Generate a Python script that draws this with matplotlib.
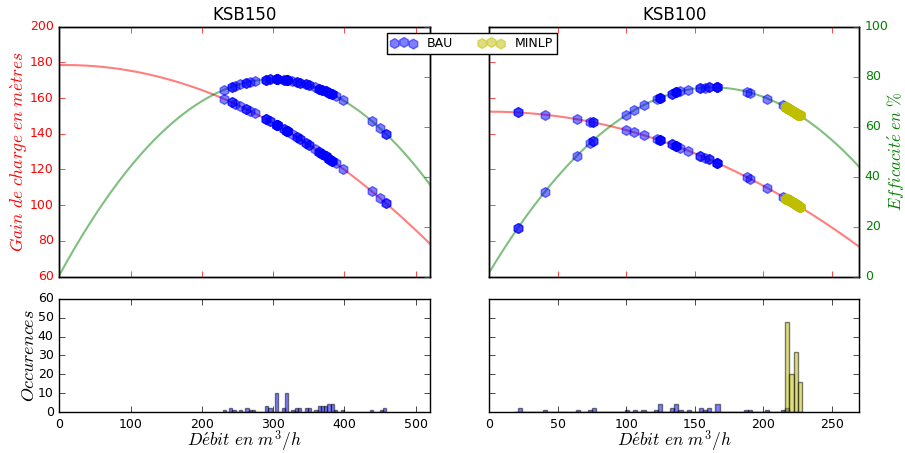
"""
Points de fonctionnement des pompes KSB150 et KSB100 : BAU vs MINLP.
Courbes caractéristiques (hauteur, rendement) + histogrammes des débits.
"""

import numpy as np
import matplotlib
matplotlib.use('Agg')
import matplotlib.pyplot as plt


q_bau_ksb150 = [231, 242, 247, 254, 262, 267, 274, 290, 295, 305, 315, 319,
                327, 333, 338, 346, 351, 359, 365, 369, 374, 378.5, 383, 388,
                398, 438, 450, 458]
n_bau_ksb150 = [1, 2, 1, 1, 2, 1, 1, 3, 2, 10, 2, 10,
                1, 2, 2, 2, 2, 1, 3, 3, 3, 4, 4, 1,
                1, 1, 1, 2]

q_bau_ksb100 = [21, 40.5, 64, 73.5, 75.5, 100, 105.5, 113, 122, 124.5, 133,
                136.5, 139.5, 145, 154, 157.5, 160.5, 166, 188, 190.5, 203,
                214, 217]
n_bau_ksb100 = [2, 1, 1, 1, 2, 1, 1, 1, 1, 4, 2,
                4, 1, 1, 2, 1, 2, 4, 1, 1, 1,
                1, 2]

q_minlp_ksb100 = [216.5, 217.5, 218.5, 220, 221, 222.5, 223.5, 224.5, 225.5, 226.5]
n_minlp_ksb100 = [16, 16, 16, 10, 10, 11, 11, 10, 8, 8]

# Coefficients des courbes (np.polyval : Q^2, Q, 1)
head_ksb150 = [-3.83e-4, 0.0065, 178.5]
eff_ksb150 = [-8.71e-4, 0.5227, 0.5]
head_ksb100 = [-1.039e-3, 0.0, 152.4]
eff_ksb100 = [-2.785e-3, 0.908, 1.7]

qmax_ksb150 = 520
qmax_ksb100 = 270


def draw_pump(ax, ax_hist, name, qmax, head, eff, bins, series, show_labels):
    """Trace courbes + points de fonctionnement, puis l'histogramme des débits."""
    ax_eff = ax.twinx()

    q = np.linspace(0, qmax, 300)
    ax.plot(q, np.polyval(head, q), color='r', alpha=0.5, lw=1.5)
    ax_eff.plot(q, np.polyval(eff, q), color='g', alpha=0.5, lw=1.5)

    handles = []
    for values, counts, color in series:
        qs = np.repeat(values, counts)
        h = ax.scatter(qs, np.polyval(head, qs), s=50, marker='h', color=color,
                       edgecolors=color, alpha=0.5, zorder=3)
        ax_eff.scatter(qs, np.polyval(eff, qs), s=50, marker='h', color=color,
                       edgecolors=color, alpha=0.5, zorder=3)
        ax_hist.hist(qs, bins=bins, color=color, alpha=0.5)
        handles.append(h)

    ax.set_xlim(0, qmax)
    ax.set_ylim(60, 200)
    ax_eff.set_ylim(0, 100)
    ax.set_title(name, fontsize=12)
    ax.tick_params(colors='r', labelbottom=False)
    ax_eff.tick_params(colors='g')

    ax_hist.set_xlim(0, qmax)
    ax_hist.set_ylim(0, 60)
    ax_hist.set_xlabel(r'$D\acute{e}bit\ en\ m^3/h$', fontsize=12.5, labelpad=-1)

    if show_labels:
        ax.set_ylabel(r'$Gain\ de\ charge\ en\ m\grave{e}tres$', color='r',
                      fontsize=12.5, labelpad=0)
        ax_eff.tick_params(labelright=False)
        ax_hist.set_ylabel(r'$Occurences$', fontsize=13, labelpad=0)
    else:
        ax.tick_params(labelleft=False)
        ax_eff.set_ylabel(r'$Efficacit\acute{e}\ en\ \%$', color='g',
                          fontsize=12, labelpad=-3)
        ax_hist.tick_params(labelleft=False)

    return handles


plt.style.use('classic')
plt.rcParams['mathtext.fontset'] = 'cm'
plt.rcParams['font.size'] = 9

fig = plt.figure(figsize=(9.05, 4.53), dpi=100, facecolor='white')
ax_l = fig.add_axes([0.0655, 0.3896, 0.4096, 0.5514])
ax_r = fig.add_axes([0.5407, 0.3896, 0.4088, 0.5514])
hist_l = fig.add_axes([0.0655, 0.0905, 0.4096, 0.2495])
hist_r = fig.add_axes([0.5407, 0.0905, 0.4088, 0.2495])

h_l = draw_pump(ax_l, hist_l, 'KSB150', qmax_ksb150, head_ksb150, eff_ksb150,
                np.arange(229, 463, 4.6),
                [(q_bau_ksb150, n_bau_ksb150, 'b')], True)
h_r = draw_pump(ax_r, hist_r, 'KSB100', qmax_ksb100, head_ksb100, eff_ksb100,
                np.arange(18, 231, 3),
                [(q_bau_ksb100, n_bau_ksb100, 'b'),
                 (q_minlp_ksb100, n_minlp_ksb100, 'y')], False)

hist_l.set_xticks(range(0, 501, 100))
hist_r.set_xticks(range(0, 251, 50))

fig.legend([h_l[0], h_r[1]], ['BAU', 'MINLP'], loc='upper center',
           bbox_to_anchor=(0.5215, 0.927), borderaxespad=0, ncol=2, fontsize=9,
           scatterpoints=3, columnspacing=2.0, handletextpad=0.8,
           handlelength=2.1, borderpad=0.3)

fig.savefig('out.png', dpi=100, facecolor='white')
